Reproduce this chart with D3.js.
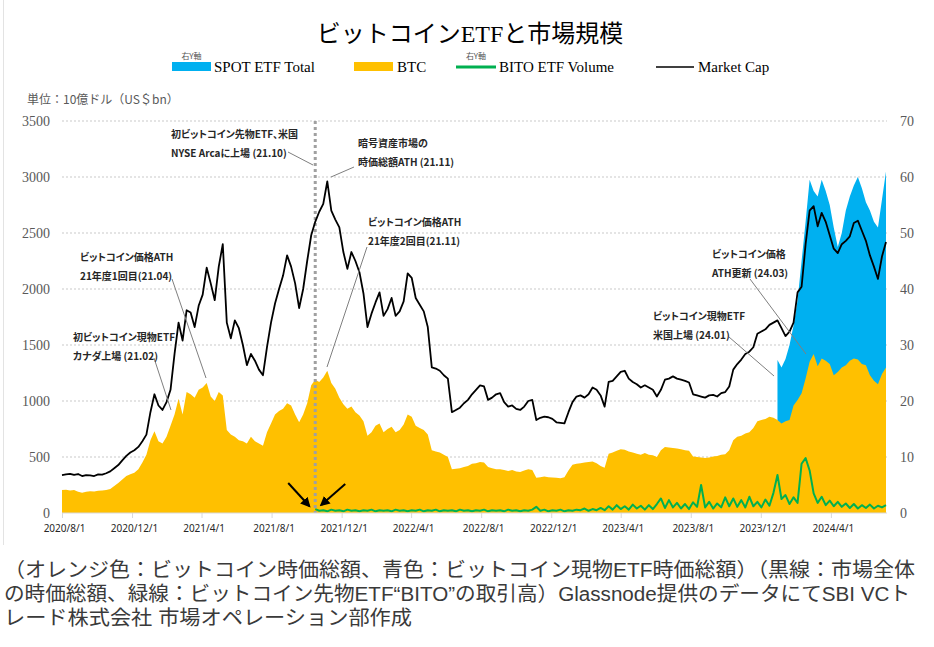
<!DOCTYPE html>
<html><head><meta charset="utf-8">
<script src="https://cdn.jsdelivr.net/npm/d3@7"></script>
<style>
body{margin:0;background:#fff;}
svg{display:block;}
.jp{font-family:"Noto Sans CJK JP","Noto Sans",sans-serif;}
</style></head><body>
<svg id="chart" width="934" height="647"></svg>
<script>
// ---------------- DATA ----------------
const weeklyStart = "2020-08-01";   // market cap & BTC: weekly observations from this date
const marketCap = [339,345,350,340,348,330,338,336,330,345,
 342,355,372,400,428,470,510,540,560,590,
 640,700,900,1060,960,920,990,1100,1420,1700,
 1540,1810,1790,1660,1850,1950,2190,2050,1900,2200,
 2400,1700,1560,1720,1650,1500,1320,1420,1360,1280,
 1230,1480,1700,1870,2000,2120,2300,2200,2050,1830,
 2000,2250,2480,2600,2690,2760,2960,2700,2620,2550,
 2330,2180,2330,2250,2150,1960,1660,1780,1880,1970,
 1760,1820,1920,1760,1800,1890,2140,2100,1920,1860,
 1800,1660,1300,1290,1270,1230,1200,900,920,940,
 980,1010,1060,1100,1140,1130,1010,1030,1060,1070,
 990,950,960,930,920,950,1000,1010,830,850,
 860,855,840,810,805,800,900,990,1040,1050,
 1030,1060,1120,1100,1050,950,1170,1180,1220,1260,
 1270,1200,1170,1150,1120,1140,1120,1100,1040,1100,
 1190,1200,1220,1200,1190,1180,1165,1060,1050,1040,
 1030,1050,1055,1040,1070,1080,1130,1280,1330,1370,
 1420,1440,1480,1600,1620,1640,1680,1700,1720,1650,
 1580,1620,1700,1970,2020,2400,2700,2740,2560,2680,
 2600,2480,2360,2320,2400,2430,2470,2590,2610,2520,
 2430,2300,2200,2090,2290,2420];
const btcCap = [205,208,200,205,190,180,190,195,192,198,
 200,205,215,240,268,300,330,345,360,390,
 450,520,650,730,640,620,680,780,880,1020,
 880,1080,1060,1030,1100,1120,1160,1040,1000,1080,
 1050,740,700,680,650,640,620,680,640,620,
 600,720,800,880,910,930,980,960,880,810,
 880,980,1140,1190,1170,1210,1270,1160,1110,1030,
 970,930,950,900,870,820,690,720,780,800,
 720,750,770,720,740,790,880,860,780,760,
 740,700,560,550,540,520,500,390,395,400,
 410,420,440,445,455,450,410,400,390,390,
 385,375,385,370,365,380,390,385,315,320,
 325,320,318,315,310,320,380,430,440,445,
 450,455,460,445,420,405,530,540,555,570,
 565,550,540,530,520,535,520,515,500,560,
 590,585,580,575,570,560,555,505,500,495,
 490,495,505,510,520,525,560,650,680,690,
 710,720,760,820,830,840,860,850,830,800,
 820,830,960,1010,1070,1200,1350,1420,1310,1380,
 1360,1330,1230,1260,1300,1320,1360,1380,1370,1330,
 1320,1230,1180,1150,1240,1300];
const spotStart = "2023-12-30";     // right axis, weekly
const spotEtf = [27.3,26.0,27.5,30.0,33.5,38.0,45.0,52.0,59.5,57.5,56.5,59.5,57.5,55.0,51.0,47.5,50.0,54.0,56.5,58.5,60.0,58.0,55.5,54.0,52.0,51.0,56.0,61.0];
const bitoStart = "2021-10-16";     // right axis, weekly
const bitoVolume = [0.7,0.4,0.5,0.3,0.6,0.4,0.5,0.3,0.6,0.4,
 0.5,0.3,0.5,0.4,0.6,0.3,0.5,0.4,0.5,0.3,
 0.6,0.4,0.5,0.3,0.5,0.4,0.6,0.3,0.5,0.4,
 0.6,0.3,0.5,0.4,0.5,0.3,0.6,0.4,0.5,0.3,
 0.5,0.4,0.6,0.3,0.5,0.4,0.5,0.3,0.6,0.4,
 0.5,0.3,0.5,0.4,0.6,
 1.1,
 0.4,0.6,0.3,0.5,0.4,0.6,0.3,0.5,0.4,0.6,0.5,0.8,0.4,0.7,0.5,
 0.9,0.5,1.2,0.6,1.4,0.7,1.2,0.6,1.5,0.8,1.3,0.6,1.4,0.7,1.6,
 2.6,0.9,2.3,1.0,1.8,0.8,1.6,0.7,1.9,1.1,5.0,1.0,2.0,0.8,1.7,1.0,2.8,1.2,2.6,1.1,
 2.3,1.0,2.9,1.2,2.0,1.0,2.4,1.3,3.6,6.8,2.5,3.2,1.6,2.8,1.8,8.8,9.8,7.6,3.5,1.8,
 2.9,1.4,2.2,1.2,2.0,1.1,1.7,0.9,1.6,0.8,1.4,0.9,1.5,0.8,1.3,1.0,1.4];
const bitoLaunch = "2021-10-16";
const xTickDates = ["2020-08-01","2020-12-01","2021-04-01","2021-08-01","2021-12-01","2022-04-01","2022-08-01","2022-12-01","2023-04-01","2023-08-01","2023-12-01","2024-04-01"];
const leftTicks = [0,500,1000,1500,2000,2500,3000,3500];
const rightTicks = [0,10,20,30,40,50,60,70];

// ---------------- HELPERS ----------------
const parse = d3.utcParse("%Y-%m-%d");
const weekly = (start, arr) => arr.map((v,i)=>({date:d3.utcDay.offset(parse(start), 7*i), v}));
const mcData = weekly(weeklyStart, marketCap);
const btcData = weekly(weeklyStart, btcCap);
const spotData = weekly(spotStart, spotEtf);
const bitoData = weekly(bitoStart, bitoVolume);

const svg = d3.select("#chart");
const X0=62, X1=886, Y0=513, Y1=121;
const x = d3.scaleUtc().domain([parse(weeklyStart), mcData[mcData.length-1].date]).range([X0, X1]);
const yL = d3.scaleLinear().domain([0,3500]).range([Y0,Y1]);
const yR = d3.scaleLinear().domain([0,70]).range([Y0,Y1]);
const GR = 887;

// frame line at left
svg.append("line").attr("x1",3.5).attr("x2",3.5).attr("y1",0).attr("y2",545).attr("stroke","#e3e3e3");

// gridlines
svg.append("g").selectAll("line").data(leftTicks.slice(1)).join("line")
  .attr("x1",X0).attr("x2",GR).attr("y1",d=>yL(d)).attr("y2",d=>yL(d))
  .attr("stroke","#c9c9c9").attr("stroke-width",1).attr("stroke-dasharray","2,2");

// blue area (right axis)
svg.append("path").datum(spotData)
  .attr("d", d3.area().x(d=>x(d.date)).y0(yR(0)).y1(d=>yR(d.v)))
  .attr("fill","#00B0F0");
// orange area (left axis)
svg.append("path").datum(btcData)
  .attr("d", d3.area().x(d=>x(d.date)).y0(yL(0)).y1(d=>yL(d.v)))
  .attr("fill","#FFC000");
// dashed vertical line
svg.append("line").attr("x1",x(parse(bitoLaunch))).attr("x2",x(parse(bitoLaunch)))
  .attr("y1",Y1).attr("y2",Y0).attr("stroke","#a0a0a0").attr("stroke-width",3).attr("stroke-dasharray","3,3");
// green line (right axis)
svg.append("path").datum(bitoData)
  .attr("d", d3.line().x(d=>x(d.date)).y(d=>yR(d.v)))
  .attr("fill","none").attr("stroke","#00B050").attr("stroke-width",2).attr("stroke-linejoin","round");
// black line (left axis)
svg.append("path").datum(mcData)
  .attr("d", d3.line().x(d=>x(d.date)).y(d=>yL(d.v)))
  .attr("fill","none").attr("stroke","#000").attr("stroke-width",1.8).attr("stroke-linejoin","round");

// x axis
const xAxis = svg.append("g").attr("transform",`translate(0,${Y0})`)
  .call(d3.axisBottom(x).tickValues(xTickDates.map(parse)).tickFormat(d3.utcFormat("%Y/%-m/%-d")).tickSize(5).tickPadding(7));
xAxis.select(".domain").remove();
xAxis.insert("line",":first-child").attr("x1",X0).attr("x2",GR).attr("stroke","#d9d9d9");
xAxis.selectAll(".tick line").attr("stroke","#d9d9d9");
xAxis.selectAll(".tick text").attr("font-family","Noto Sans, sans-serif").attr("font-size",10).attr("fill","#262626").attr("dx",2);

// left axis
const lAxis = svg.append("g").attr("transform",`translate(${X0},0)`)
  .call(d3.axisLeft(yL).tickValues(leftTicks).tickFormat(d3.format("d")).tickSize(0).tickPadding(12));
lAxis.select(".domain").remove();
lAxis.selectAll("text").attr("font-family","Liberation Serif, serif").attr("font-size",14).attr("fill","#595959");
// right axis
const rAxis = svg.append("g").attr("transform",`translate(${GR},0)`)
  .call(d3.axisRight(yR).tickValues(rightTicks).tickFormat(d3.format("d")).tickSize(0).tickPadding(13));
rAxis.select(".domain").remove();
rAxis.selectAll("text").attr("font-family","Liberation Serif, serif").attr("font-size",14).attr("fill","#595959");

// unit label
svg.append("text").attr("class","jp").attr("x",27).attr("y",104).attr("font-size",12).attr("fill","#595959")
  .text("単位：10億ドル（US＄bn）");

// title
svg.append("text").attr("x",470).attr("y",42).attr("text-anchor","middle")
  .attr("font-family","Liberation Serif, Noto Sans CJK JP, serif").attr("font-size",24).attr("fill","#000")
  .text("ビットコインETFと市場規模");

// legend
const lg = svg.append("g").attr("font-family","Liberation Serif, serif").attr("font-size",15).attr("fill","#000");
lg.append("rect").attr("x",172).attr("y",62).attr("width",39).attr("height",9).attr("fill","#00B0F0");
lg.append("text").attr("x",214).attr("y",72).text("SPOT ETF Total");
lg.append("rect").attr("x",354).attr("y",62).attr("width",39).attr("height",9).attr("fill","#FFC000");
lg.append("text").attr("x",397).attr("y",72).text("BTC");
lg.append("line").attr("x1",456).attr("x2",496).attr("y1",67).attr("y2",67).attr("stroke","#00B050").attr("stroke-width",3);
lg.append("text").attr("x",499).attr("y",72).text("BITO ETF Volume");
lg.append("line").attr("x1",656).attr("x2",694).attr("y1",67).attr("y2",67).attr("stroke","#000").attr("stroke-width",1.5);
lg.append("text").attr("x",698).attr("y",72).text("Market Cap");
[191.5, 476].forEach(cx=>{
  svg.append("text").attr("class","jp").attr("x",cx).attr("y",59).attr("text-anchor","middle")
    .attr("font-size",8).attr("fill","#555").text("右Y軸");
});

// annotations
const notes = [
  {lines:["初ビットコイン先物ETF、米国","NYSE Arcaに上場 (21.10)"], tx:171, ty:138, l:[288,152,313,165]},
  {lines:["暗号資産市場の","時価総額ATH (21.11)"], tx:358, ty:147, l:[354,167,331,177]},
  {lines:["ビットコイン価格ATH","21年度2回目(21.11)"], tx:368, ty:226, l:[367,247,327,367]},
  {lines:["ビットコイン価格ATH","21年度1回目(21.04)"], tx:80, ty:261, l:[172,279,206,378]},
  {lines:["初ビットコイン現物ETF","カナダ上場 (21.02)"], tx:73, ty:341, l:[154,358,171,410]},
  {lines:["ビットコイン価格","ATH更新 (24.03)"], tx:712, ty:258, l:[750,279,806,354]},
  {lines:["ビットコイン現物ETF","米国上場 (24.01)"], tx:653, ty:320, l:[729,337,774,376]}
];
const ag = svg.append("g");
notes.forEach(n=>{
  ag.append("line").attr("x1",n.l[0]).attr("y1",n.l[1]).attr("x2",n.l[2]).attr("y2",n.l[3])
    .attr("stroke","#7f7f7f").attr("stroke-width",1);
  n.lines.forEach((t,i)=>{
    ag.append("text").attr("class","jp").attr("x",n.tx).attr("y",n.ty+i*18.5)
      .attr("font-size",10).attr("font-weight","bold").attr("fill","#262626")
      .style("font-feature-settings","'palt'").text(t);
  });
});

// arrows
const defs = svg.append("defs");
defs.append("marker").attr("id","ah").attr("viewBox","0 0 10 10").attr("refX",8).attr("refY",5)
  .attr("markerWidth",5).attr("markerHeight",5).attr("orient","auto")
  .append("path").attr("d","M0,0 L10,5 L0,10 Z").attr("fill","#000");
const lx = x(parse(bitoLaunch));
[[lx-27,483,lx-6,506],[lx+30,484,lx+6,505]].forEach(a=>{
  svg.append("line").attr("x1",a[0]).attr("y1",a[1]).attr("x2",a[2]).attr("y2",a[3])
    .attr("stroke","#000").attr("stroke-width",2).attr("marker-end","url(#ah)");
});

// caption
const cap = ["（オレンジ色：ビットコイン時価総額、青色：ビットコイン現物ETF時価総額）（黒線：市場全体",
 "の時価総額、緑線：ビットコイン先物ETF“BITO”の取引高）Glassnode提供のデータにてSBI VCト",
 "レード株式会社 市場オペレーション部作成"];
const capLen = [911, 906, 408];
cap.forEach((t,i)=>{
  svg.append("text").attr("x",4).attr("y",577+i*24)
    .attr("font-family","'Liberation Sans','Noto Sans CJK JP',sans-serif")
    .attr("font-size",20).attr("fill","#3a3a3a")
    .attr("textLength",capLen[i]).attr("lengthAdjust","spacingAndGlyphs").text(t);
});
</script>
</body></html>
